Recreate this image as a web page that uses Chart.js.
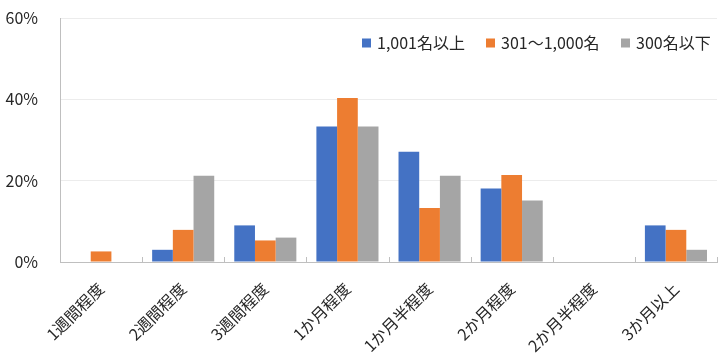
<!DOCTYPE html>
<html><head><meta charset="utf-8">
<script src="https://cdn.jsdelivr.net/npm/chart.js@4/dist/chart.umd.min.js"></script>
<style>html,body{margin:0;padding:0;background:#fff}#wrap{width:726px;height:364px}</style>
</head><body><div id="wrap"><canvas id="c"></canvas></div>
<script>
const categories = ["1週間程度","2週間程度","3週間程度","1か月程度","1か月半程度","2か月程度","2か月半程度","3か月以上"];
const seriesNames = ["1,001名以上","301～1,000名","300名以下"];
const large = [0, 3.0, 9.0, 33.3, 27.1, 18.1, 0, 9.0];
const medium = [2.6, 7.9, 5.3, 40.3, 13.3, 21.4, 0, 7.9];
const small = [0, 21.2, 6.0, 33.3, 21.2, 15.1, 0, 3.0];
const yTicks = [0, 20, 40, 60];
const colors = ["#4472C4","#ED7D31","#A5A5A5"];
const FONT = "'Noto Sans CJK JP', 'Noto Sans', sans-serif";
const TXT = "#262626";

const legendPlugin = {
  id: 'customLegend',
  afterDraw(chart) {
    const ctx = chart.ctx;
    ctx.save();
    ctx.font = "16px " + FONT;
    ctx.textBaseline = "middle";
    const y = 43;
    const xs = [362, 486, 621];
    chart.data.datasets.forEach((ds, i) => {
      ctx.fillStyle = ds.backgroundColor;
      ctx.fillRect(xs[i], y - 4.5, 9, 9);
      ctx.fillStyle = TXT;
      ctx.fillText(ds.label, xs[i] + 15, y);
    });
    ctx.restore();
  }
};
const tickPlugin = {
  id: 'innerTicks',
  afterDatasetsDraw(chart) {
    const xs = chart.scales.x, ctx = chart.ctx;
    const bottom = chart.chartArea.bottom;
    ctx.save();
    ctx.strokeStyle = "#bfbfbf";
    ctx.lineWidth = 1;
    for (let i = 0; i < categories.length; i++) {
      const x = i < categories.length - 1 ? (xs.getPixelForValue(i) + xs.getPixelForValue(i + 1)) / 2 : chart.chartArea.right;
      const px = Math.round(x) + 0.5;
      ctx.beginPath(); ctx.moveTo(px, bottom); ctx.lineTo(px, bottom - 5); ctx.stroke();
    }
    ctx.restore();
  }
};

new Chart(document.getElementById('c'), {
  type: 'bar',
  data: {
    labels: categories,
    datasets: [
      { label: seriesNames[0], data: large, backgroundColor: colors[0] },
      { label: seriesNames[1], data: medium, backgroundColor: colors[1] },
      { label: seriesNames[2], data: small, backgroundColor: colors[2] }
    ]
  },
  options: {
    responsive: true, maintainAspectRatio: false, animation: false,
    layout: { padding: { top: 0, right: 9, left: 0, bottom: 0 } },
    datasets: { bar: { categoryPercentage: 0.756, barPercentage: 1.0 } },
    plugins: { legend: { display: false }, tooltip: { enabled: false } },
    scales: {
      x: {
        grid: { display: false },
        border: { display: true, color: "#bfbfbf", width: 1 },
        ticks: { color: TXT, font: { family: FONT, size: 16 }, minRotation: 45, maxRotation: 45, padding: 9, labelOffset: 0, autoSkip: false },
        afterFit(s) { s.height = 102; }
      },
      y: {
        min: 0, max: 60,
        afterBuildTicks(s) { s.ticks = yTicks.map(v => ({ value: v })); },
        grid: { color: "#ececec", drawTicks: false },
        border: { display: true, color: "#bfbfbf", width: 1 },
        ticks: { color: TXT, font: { family: FONT, size: 16 }, padding: 22, callback: v => v + "%" },
        afterFit(s) { s.width = 60; s.paddingTop = 18; s.paddingBottom = 0; }
      }
    }
  },
  plugins: [legendPlugin, tickPlugin]
});
</script></body></html>
